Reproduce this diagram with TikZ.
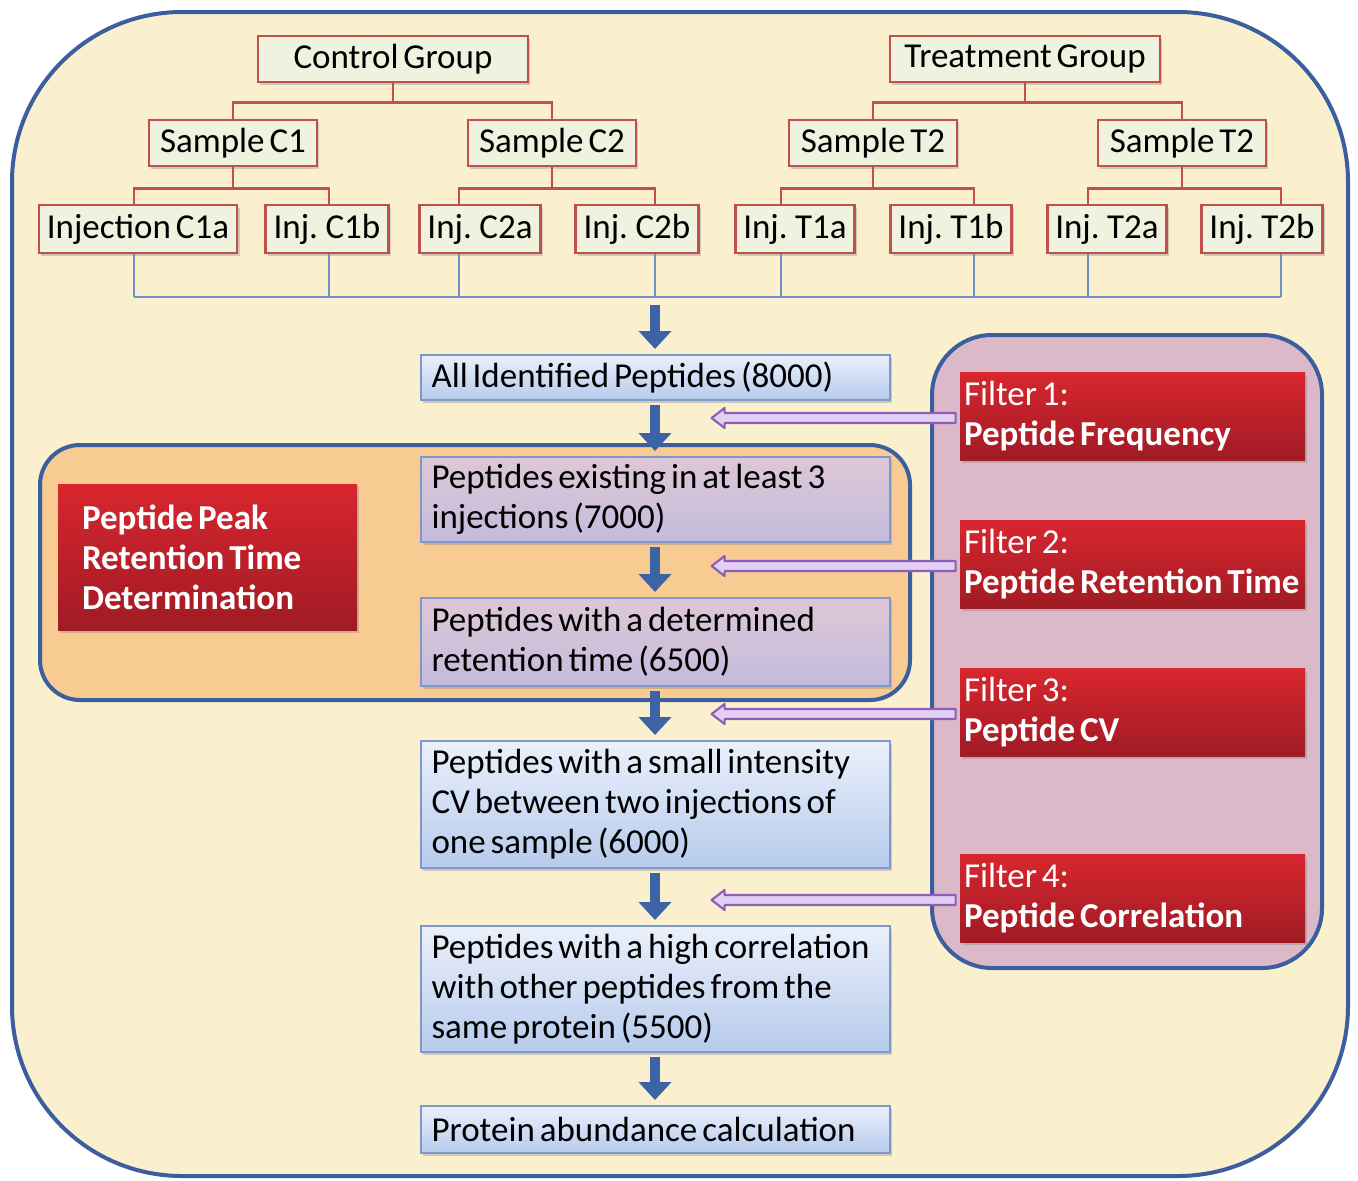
\documentclass[tikz,border=0pt]{standalone}
\usepackage{fontspec}
\setmainfont{Carlito}[WordSpace=0.6]
\usetikzlibrary{arrows.meta,shadows}

\definecolor{outerline}{HTML}{3B5E9E}
\definecolor{cream}{HTML}{FBF0CD}
\definecolor{peach}{HTML}{F7CB91}
\definecolor{mauve}{HTML}{DCB9C9}
\definecolor{treered}{HTML}{C0504D}
\definecolor{treefill}{HTML}{EEF2DF}
\definecolor{busblue}{HTML}{6E8FCA}
\definecolor{arrowblue}{HTML}{3D63A7}
\definecolor{flowtop}{HTML}{EAF0FB}
\definecolor{flowbot}{HTML}{B7CBEC}
\definecolor{flowline}{HTML}{7D98CB}
\definecolor{lilactop}{HTML}{DEC7D6}
\definecolor{lilacbot}{HTML}{C3BCDC}
\definecolor{redtop}{HTML}{D8262F}
\definecolor{redbot}{HTML}{A01B24}
\definecolor{lavender}{HTML}{E2D0F4}
\definecolor{lavline}{HTML}{8E5DB8}

\begin{document}
\begin{tikzpicture}[x=0.5pt, y=-0.5pt,
	every node/.style={font=\fontsize{17.5}{20}\selectfont, execute at begin node={\spaceskip=.14em plus .05em\relax}},
	>={Triangle[width=16pt,length=9pt]},
	panel/.style={draw=outerline, line width=2pt},
	softshadow/.style={drop shadow={shadow xshift=1.2pt, shadow yshift=-1.4pt, opacity=.35}},
	tbox/.style={draw=treered, line width=1.3pt, fill=treefill, inner xsep=4pt, inner ysep=0pt, minimum height=23pt, softshadow},
	flow/.style={draw=flowline, line width=1pt, top color=flowtop, bottom color=flowbot, text width=223.5pt, inner xsep=5.5pt, inner ysep=0pt, align=left, softshadow},
	lilac/.style={flow, top color=lilactop, bottom color=lilacbot},
	redbox/.style={top color=redtop, bottom color=redbot, text=white, align=left, inner ysep=0pt, softshadow},
	tree/.style={treered, line width=1.3pt},
	bus/.style={busblue, line width=1pt},
	down/.style={->, arrowblue, line width=5pt, shorten <=2pt, shorten >=2.5pt},
	filterarrow/.style={fill=lavender, draw=lavline, line width=1.1pt, line join=round}]
	\useasboundingbox (0,0) rectangle (1358,1180);
	\filldraw[panel, fill=cream, rounded corners=85pt] (12,12) rectangle (1348,1176);
	\filldraw[panel, fill=peach, rounded corners=20pt] (40,445) rectangle (910,700);
	\filldraw[panel, fill=mauve, rounded corners=30pt] (932,335) rectangle (1322,968);

	\node[tbox, minimum width=135pt] (cg) at (393,59) {Control Group};
	\node[tbox, minimum width=135pt] (tg) at (1025,59) {Treatment Group};
	\node[tbox, minimum width=84pt] (sc1) at (233,143) {Sample C1};
	\node[tbox, minimum width=84pt] (sc2) at (552,143) {Sample C2};
	\node[tbox, minimum width=84pt] (st1) at (873,143) {Sample T2};
	\node[tbox, minimum width=84pt] (st2) at (1182,143) {Sample T2};
	\foreach \n/\x/\t in {ic1a/138/Injection C1a, ic1b/327/Inj. C1b, ic2a/480/Inj. C2a, ic2b/637/Inj. C2b, it1a/795/Inj. T1a, it1b/951/Inj. T1b, it2a/1107/Inj. T2a, it2b/1262/Inj. T2b}
		\node[tbox, minimum height=24pt] (\n) at (\x,229) {\t};
	\foreach \n/\x in {ic1a/134, ic1b/329, ic2a/459, ic2b/655, it1a/781, it1b/974, it2a/1088, it2b/1281}
		\coordinate (\n-d) at (\x,297);

	\foreach \p/\a/\b in {cg/sc1/sc2, tg/st1/st2} {
		\draw[tree] (\p.south) -- ++(0,19) coordinate (\p-fork);
		\draw[tree] (\a.north) |- (\p-fork) -| (\b.north);
	}
	\foreach \s/\a/\b in {sc1/ic1a/ic1b, sc2/ic2a/ic2b, st1/it1a/it1b, st2/it2a/it2b} {
		\draw[tree] (\s.south) -- ++(0,21) coordinate (\s-fork);
		\draw[tree] (\a-d |- \a.north) |- (\s-fork) -| (\b-d |- \b.north);
	}
	\draw[bus] (ic1a-d) -- (it2b-d);
	\foreach \n in {ic1a, ic1b, ic2a, ic2b, it1a, it1b, it2a, it2b}
		\draw[bus] (\n-d |- \n.south) -- (\n-d);

	\node[flow, minimum height=22.5pt] (all) at (655,377.5) {All Identified Peptides (8000)};
	\node[lilac, minimum height=42.5pt] (p7000) at (655,499.5) {Peptides existing in at least 3\\injections (7000)};
	\node[lilac, minimum height=44pt] (p6500) at (655,642) {Peptides with a determined\\retention time (6500)};
	\node[flow, minimum height=63.5pt] (p6000) at (655,804.5) {Peptides with a small intensity\\CV between two injections of\\one sample (6000)};
	\node[flow, minimum height=63pt] (p5500) at (655,989) {Peptides with a high correlation\\with other peptides from the\\same protein (5500)};
	\node[flow, minimum height=23.5pt] (prot) at (655,1129.5) {Protein abundance calculation};

	\node[redbox, text width=125.5pt, inner xsep=12pt, minimum height=73pt, font=\fontsize{17.5}{20}\selectfont\bfseries] (peak) at (207.5,557) {Peptide Peak\\Retention Time\\Determination};
	\foreach \n/\y/\k/\t in {f1/416/1/Peptide Frequency, f2/564/2/Peptide Retention Time, f3/712/3/Peptide CV, f4/898/4/Peptide Correlation}
		\node[redbox, text width=168.5pt, inner xsep=2pt, minimum height=44pt] (\n) at (1132.5,\y) {Filter \k:\\\textbf{\t}};

	\draw[down, shorten <=4pt] (ic2b-d) -- (all.north);
	\foreach \a/\b in {all/p7000, p7000/p6500, p6500/p6000, p6000/p5500, p5500/prot}
		\draw[down] (\a.south) -- (\b.north);
	\foreach \n in {f1, f2, f3, f4}
		\filldraw[filterarrow] (\n.west) ++(-4,7) -- ++(-231,0) -- ++(0,5) -- ++(-13,-10) -- ++(13,-10) -- ++(0,5) -- ++(231,0) -- cycle;
\end{tikzpicture}
\end{document}
